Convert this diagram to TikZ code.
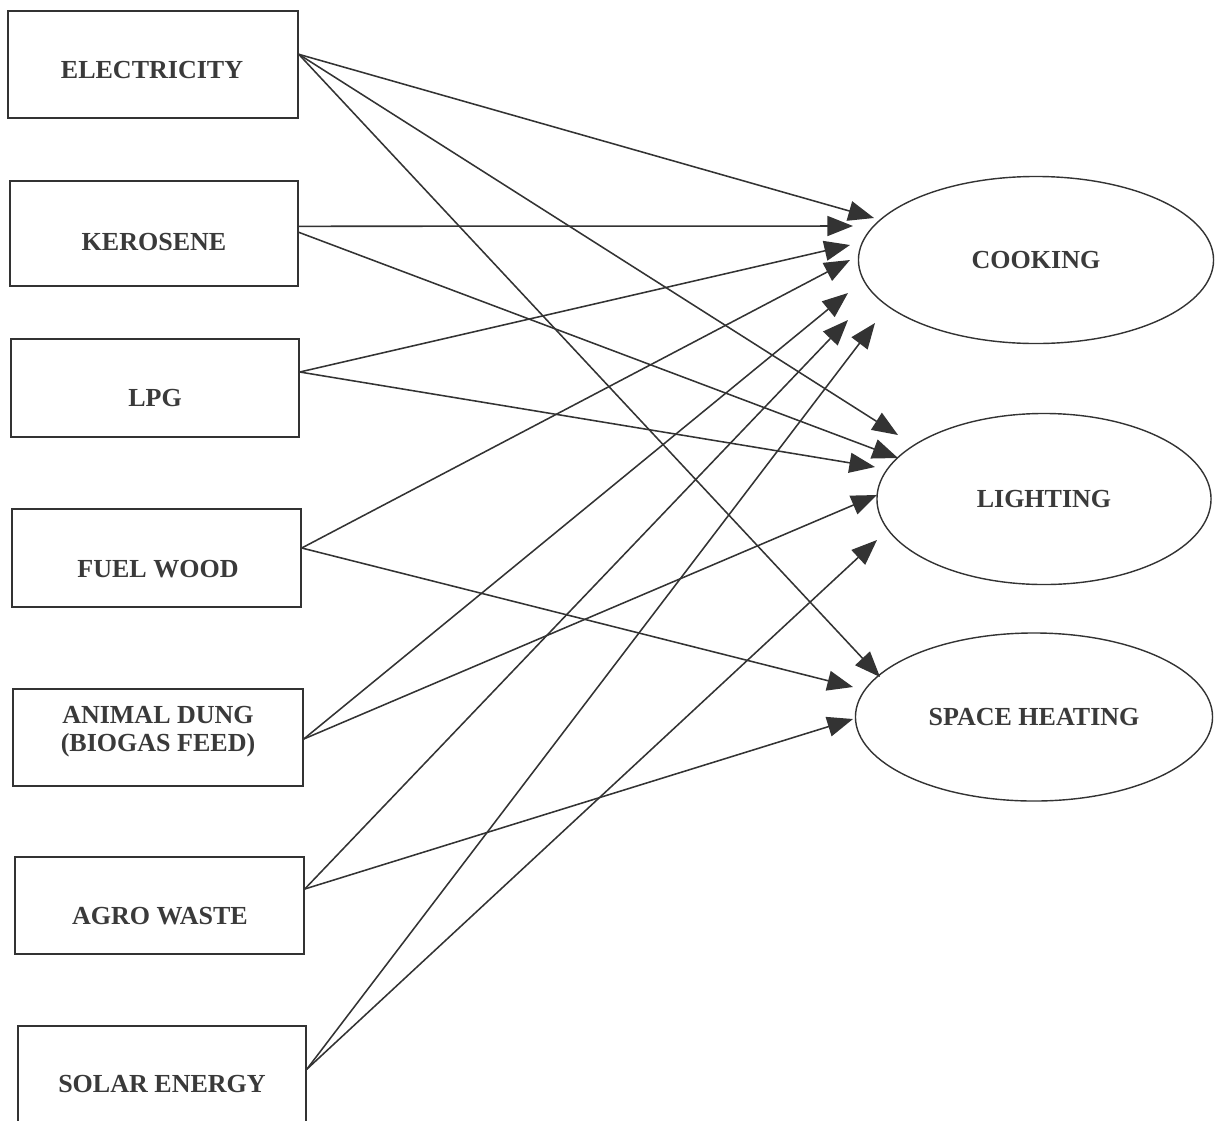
\documentclass[tikz,border=0pt]{standalone}
\usepackage{fontspec}
\setmainfont{Liberation Serif}
\usetikzlibrary{arrows.meta,shapes.geometric,calc}
\definecolor{ink}{HTML}{333333}
\definecolor{txt}{HTML}{3A3A3A}
\begin{document}
\begin{tikzpicture}[x=0.025cm,y=-0.025cm,
  srcbox/.style={draw=ink,line width=1pt,rectangle,inner sep=0pt},
  usebox/.style={draw=ink,line width=1pt,ellipse,inner sep=0pt,
     font=\fontsize{18.5}{22}\selectfont\bfseries,text=txt},
  lbl/.style={inner sep=0pt,font=\fontsize{18.5}{22}\selectfont\bfseries,text=txt,align=center},
  flow/.style={draw=ink,line width=1.1pt,-{Triangle[length=0.64cm,width=0.5cm]}}]
\useasboundingbox (0,0) rectangle (1218,1120);
\clip (0,0) rectangle (1218,1120);
% source boxes
\node[srcbox,minimum width=7.25cm,minimum height=2.675cm] (elec) at (153,64.5) {};
\node[lbl] (elecT) at (152,70) {ELECTRICITY};
\node[srcbox,minimum width=7.2cm,minimum height=2.625cm] (kero) at (154,233.5) {};
\node[lbl] (keroT) at (154,242) {KEROSENE};
\node[srcbox,minimum width=7.2cm,minimum height=2.45cm] (lpg) at (155,388) {};
\node[lbl] (lpgT) at (155,398) {LPG};
\node[srcbox,minimum width=7.225cm,minimum height=2.45cm] (fuel) at (156.5,558) {};
\node[lbl] (fuelT) at (158,569) {FUEL WOOD};
\node[srcbox,minimum width=7.25cm,minimum height=2.425cm] (dung) at (158,737.5) {};
\node[lbl,font=\fontsize{18.5}{20}\selectfont\bfseries] (dungT) at (158,732) {ANIMAL DUNG\\(BIOGAS FEED)};
\node[srcbox,minimum width=7.225cm,minimum height=2.425cm] (agro) at (159.5,905.5) {};
\node[lbl] (agroT) at (160,916) {AGRO WASTE};
\node[srcbox,minimum width=7.2cm,minimum height=3.0cm] (solar) at (162,1086) {};
\node[lbl] (solarT) at (162,1084) {SOLAR ENERGY};
% use ellipses
\node[usebox,minimum width=8.875cm,minimum height=4.175cm] (cook) at (1036,260) {COOKING};
\node[usebox,minimum width=8.35cm,minimum height=4.275cm] (light) at (1044,499) {LIGHTING};
\node[usebox,minimum width=8.925cm,minimum height=4.2cm] (heat) at (1034,717) {SPACE HEATING};
% flows
\draw[flow] ($(elec.north east)+(0,44)$) -- ($(cook.center)+(-162,-42)$);
\draw[flow] ($(elec.north east)+(0,44)$) -- ($(light.center)+(-146,-64)$);
\draw[flow] ($(elec.north east)+(0,44)$) -- ($(heat.center)+(-154,-40)$);
\draw[flow] ($(kero.north east)+(0,46)$) -- ($(cook.center)+(-183,-34)$);
\draw[flow] ($(kero.north east)+(0,52)$) -- ($(light.center)+(-146,-41)$);
\draw[flow] ($(lpg.east)+(0,-16)$) -- ($(cook.center)+(-186,-15)$);
\draw[flow] ($(lpg.east)+(0,-16)$) -- ($(light.center)+(-169,-32)$);
\draw[flow] ($(fuel.east)+(0,-10)$) -- ($(cook.center)+(-186,0)$);
\draw[flow] ($(fuel.east)+(0,-10)$) -- ($(heat.center)+(-181,-30)$);
\draw[flow] ($(dung.east)+(0,1.5)$) -- ($(cook.center)+(-188,33)$);
\draw[flow] ($(dung.east)+(0,1.5)$) -- ($(light.center)+(-167,-4)$);
\draw[flow] ($(agro.east)+(0,-16.5)$) -- ($(cook.center)+(-188,60)$);
\draw[flow] ($(agro.east)+(0,-16.5)$) -- ($(heat.center)+(-181,2)$);
\draw[flow] ($(solar.north east)+(0,44)$) -- ($(cook.center)+(-161,63)$);
\draw[flow] ($(solar.north east)+(0,44)$) -- ($(light.center)+(-167,41)$);
\end{tikzpicture}
\end{document}
